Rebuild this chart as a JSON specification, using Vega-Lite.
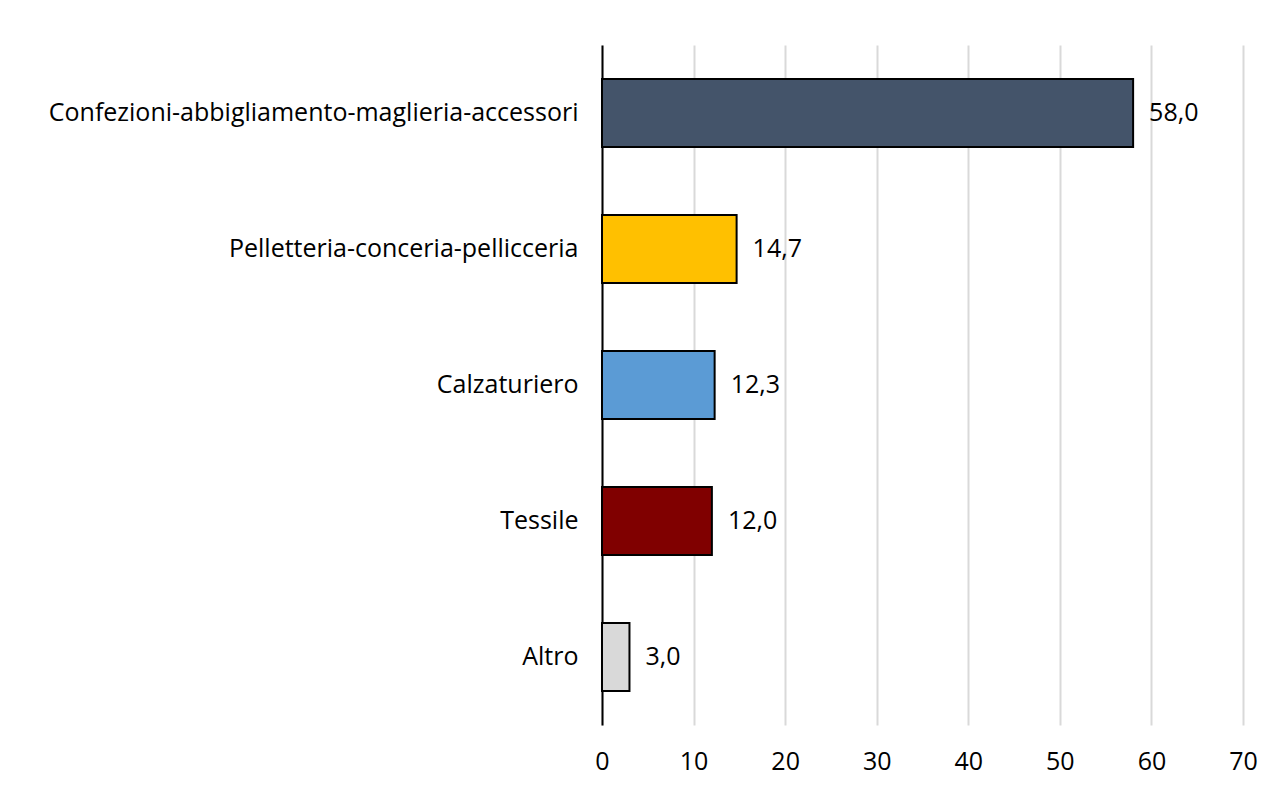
{
  "$schema": "https://vega.github.io/schema/vega-lite/v6.json",
  "autosize": "none",
  "width": 641,
  "height": 680,
  "padding": {"left": 602, "top": 45, "right": 33, "bottom": 67},
  "background": "white",
  "config": {
    "view": {"stroke": null},
    "font": "Open Sans",
    "locale": {"number": {"decimal": ",", "thousands": ".", "grouping": [3], "currency": ["€", ""]}}
  },
  "data": {"values": [
    {"categoria": "Confezioni-abbigliamento-maglieria-accessori", "valore": 58.0},
    {"categoria": "Pelletteria-conceria-pellicceria", "valore": 14.7},
    {"categoria": "Calzaturiero", "valore": 12.3},
    {"categoria": "Tessile", "valore": 12.0},
    {"categoria": "Altro", "valore": 3.0}
  ]},
  "encoding": {
    "y": {"field": "categoria", "type": "nominal", "sort": null,
      "scale": {"paddingInner": 0.5, "paddingOuter": 0.25},
      "axis": {"title": null, "domainColor": "black", "domainWidth": 2, "ticks": false, "labelFontSize": 25, "labelColor": "black", "labelPadding": 24, "labelLimit": 700}},
    "x": {"field": "valore", "type": "quantitative",
      "scale": {"domain": [0, 70], "nice": false},
      "axis": {"title": null, "values": [0,10,20,30,40,50,60,70], "domain": false, "ticks": false, "grid": true, "gridColor": "#d9d9d9", "gridWidth": 2, "labelFlush": false, "labelFontSize": 25, "labelColor": "black", "labelPadding": 24}}
  },
  "layer": [
    {"mark": {"type": "bar", "stroke": "black", "strokeWidth": 2},
     "encoding": {"color": {"field": "categoria", "type": "nominal", "legend": null,
       "scale": {"domain": ["Confezioni-abbigliamento-maglieria-accessori", "Pelletteria-conceria-pellicceria", "Calzaturiero", "Tessile", "Altro"],
                 "range": ["#44546A", "#FFC000", "#5B9BD5", "#800000", "#D9D9D9"]}}}},
    {"mark": {"type": "text", "align": "left", "dx": 16, "fontSize": 25, "color": "black"},
     "encoding": {"text": {"field": "valore", "type": "quantitative", "format": ".1f"}}}
  ]
}
